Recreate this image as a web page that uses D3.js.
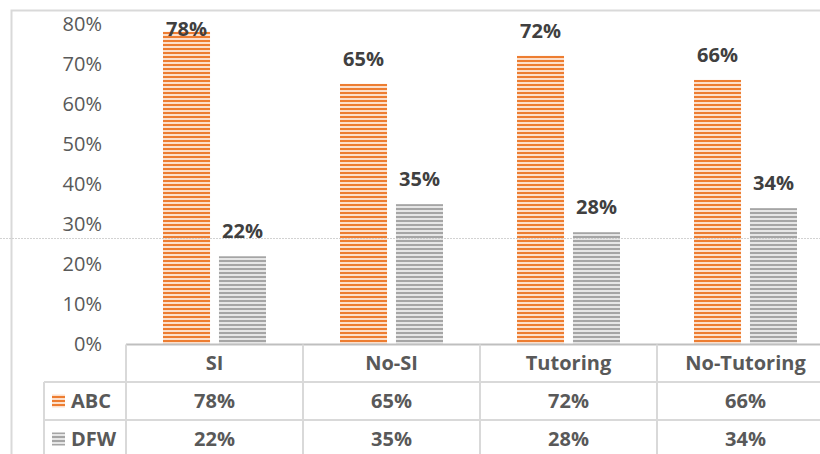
<!DOCTYPE html>
<html>
<head>
<meta charset="utf-8">
<script src="https://cdn.jsdelivr.net/npm/d3@7/dist/d3.min.js"></script>
<style>
  html, body { margin: 0; padding: 0; background: #fff; }
  svg { display: block; font-family: "Open Sans", sans-serif; }
</style>
</head>
<body>
<svg id="chart" width="820" height="454"></svg>
<script>
const categories = ["SI", "No-SI", "Tutoring", "No-Tutoring"];
const seriesNames = ["ABC", "DFW"];
const abcValues = [78, 65, 72, 66];
const dfwValues = [22, 35, 28, 34];
const yTicks = [0, 10, 20, 30, 40, 50, 60, 70, 80];

const seriesColors = { ABC: ["#ED7D31", "#FCE0CC"], DFW: ["#A5A5A5", "#E6E6E6"] };
const valuesBySeries = { ABC: abcValues, DFW: dfwValues };

const svg = d3.select("#chart");
const defs = svg.append("defs");
seriesNames.forEach(s => {
  const p = defs.append("pattern")
    .attr("id", "pat" + s)
    .attr("patternUnits", "userSpaceOnUse")
    .attr("width", 4).attr("height", 4);
  p.append("rect").attr("width", 4).attr("height", 4).attr("fill", seriesColors[s][1]);
  p.append("rect").attr("width", 4).attr("height", 2).attr("fill", seriesColors[s][0]);
});

// outer frame (chart area border)
svg.append("path")
  .attr("d", "M11.5,460 V10.5 H830")
  .attr("fill", "none").attr("stroke", "#D9D9D9").attr("stroke-width", 2);

const x = d3.scaleBand().domain(categories).range([126, 834]);
const xs = d3.scaleBand().domain(seriesNames).range([37, 140]).paddingInner(0.16);
const y = d3.scaleLinear().domain([0, 80]).range([344.5, 23.7]);

// y axis labels
const yAxis = d3.axisLeft(y).tickValues(yTicks).tickFormat(d => d + "%").tickSize(0).tickPadding(24);
const yg = svg.append("g").attr("transform", "translate(126,0)").call(yAxis);
yg.select(".domain").remove();
yg.selectAll("text")
  .attr("font-family", "Open Sans, sans-serif")
  .attr("font-size", 20).attr("fill", "#595959");

// bars
const data = [];
categories.forEach((c, i) => seriesNames.forEach(s => data.push({ c, s, v: valuesBySeries[s][i] })));

svg.append("g").selectAll("rect").data(data).join("rect")
  .attr("x", d => x(d.c) + xs(d.s))
  .attr("y", d => y(d.v))
  .attr("width", xs.bandwidth())
  .attr("height", d => y(0) - y(d.v))
  .attr("fill", d => "url(#pat" + d.s + ")");

// data labels
svg.append("g").selectAll("text").data(data).join("text")
  .attr("x", d => x(d.c) + xs(d.s) + xs.bandwidth() / 2)
  .attr("y", d => Math.max(y(d.v) - 18, 36))
  .attr("text-anchor", "middle")
  .attr("font-size", 20).attr("font-weight", "bold").attr("fill", "#404040")
  .text(d => d.v + "%");

// data table
const rowTop = [344.5, 382, 420, 458];
const tableRight = 834;
const lineColor = "#D9D9D9";
const tg = svg.append("g");
// horizontal lines
tg.append("line").attr("x1", 126).attr("x2", tableRight).attr("y1", rowTop[0]).attr("y2", rowTop[0])
  .attr("stroke", "#BFBFBF").attr("stroke-width", 2);
[rowTop[1], rowTop[2]].forEach(yy => {
  tg.append("line").attr("x1", 44).attr("x2", tableRight).attr("y1", yy).attr("y2", yy)
    .attr("stroke", lineColor).attr("stroke-width", 2);
});
// vertical lines
tg.append("line").attr("x1", 44).attr("x2", 44).attr("y1", rowTop[1]).attr("y2", 460)
  .attr("stroke", lineColor).attr("stroke-width", 2);
categories.forEach(c => {
  tg.append("line").attr("x1", x(c)).attr("x2", x(c)).attr("y1", rowTop[0]).attr("y2", 460)
    .attr("stroke", lineColor).attr("stroke-width", 2);
});

// header
tg.selectAll("text.cat").data(categories).join("text").attr("class", "cat")
  .attr("x", d => x(d) + x.bandwidth() / 2)
  .attr("y", (rowTop[0] + rowTop[1]) / 2 + 7)
  .attr("text-anchor", "middle")
  .attr("font-size", 20).attr("font-weight", "bold").attr("fill", "#595959")
  .text(d => d);

// rows
seriesNames.forEach((s, r) => {
  const cy = (rowTop[r + 1] + rowTop[r + 2]) / 2;
  tg.append("rect").attr("x", 52).attr("y", cy - 6.5).attr("width", 13).attr("height", 13)
    .attr("fill", "url(#pat" + s + ")");
  tg.append("text").attr("x", 71).attr("y", cy + 7)
    .attr("font-size", 20).attr("font-weight", "bold").attr("fill", "#595959").text(s);
  tg.selectAll("text.v" + s).data(valuesBySeries[s]).join("text").attr("class", "v" + s)
    .attr("x", (d, i) => x(categories[i]) + x.bandwidth() / 2)
    .attr("y", cy + 7)
    .attr("text-anchor", "middle")
    .attr("font-size", 20).attr("font-weight", "bold").attr("fill", "#595959")
    .text(d => d + "%");
});

// faint dotted page line
svg.append("line").attr("x1", 0).attr("x2", 820).attr("y1", 238.5).attr("y2", 238.5)
  .attr("stroke", "#C8C8C8").attr("stroke-width", 1).attr("stroke-dasharray", "2,1").attr("opacity", 0.8);
</script>
</body>
</html>
